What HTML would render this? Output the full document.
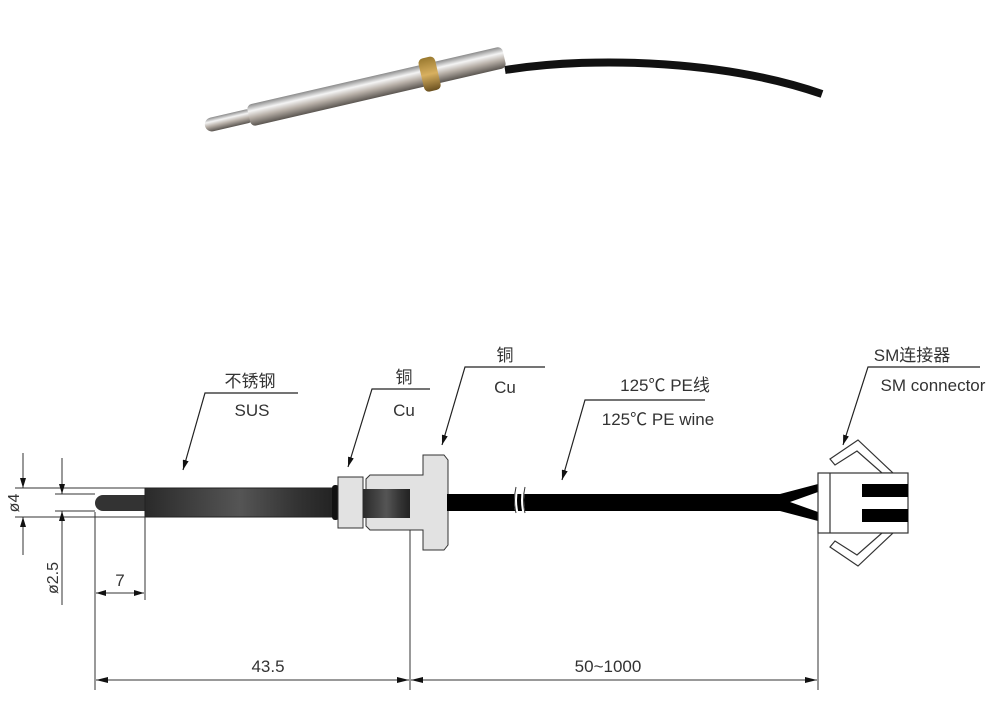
<!DOCTYPE html>
<html><head><meta charset="utf-8"><style>
body{margin:0;background:#fff}
svg{display:block}
text{font-family:"Liberation Sans","Noto Sans CJK SC",sans-serif;fill:#333}
</style></head><body>
<svg width="1000" height="727" viewBox="0 0 1000 727" xmlns="http://www.w3.org/2000/svg">
<defs>
<linearGradient id="met" x1="0" y1="0" x2="0" y2="1">
<stop offset="0" stop-color="#8a8a8a"/><stop offset="0.3" stop-color="#f4f4f4"/><stop offset="0.6" stop-color="#b8b0a8"/><stop offset="1" stop-color="#5a5550"/></linearGradient>
<linearGradient id="brass" x1="0" y1="0" x2="0" y2="1">
<stop offset="0" stop-color="#9a7a30"/><stop offset="0.5" stop-color="#d8b060"/><stop offset="1" stop-color="#6a5020"/></linearGradient>
<linearGradient id="tube" x1="0" y1="0" x2="1" y2="0">
<stop offset="0" stop-color="#2a2a2a"/><stop offset="0.5" stop-color="#555"/><stop offset="0.8" stop-color="#333"/><stop offset="1" stop-color="#222"/></linearGradient>
<marker id="ar" markerWidth="10" markerHeight="6" refX="10" refY="3" orient="auto" markerUnits="userSpaceOnUse"><path d="M0,0 L10,3 L0,6z" fill="#111"/></marker>
<marker id="ar2" markerWidth="12" markerHeight="6" refX="12" refY="3" orient="auto" markerUnits="userSpaceOnUse"><path d="M0,0 L12,3 L0,6z" fill="#111"/></marker>
</defs>

<!-- photo -->
<path d="M505,70 C600,55 730,62 822,94" stroke="#111" stroke-width="8" fill="none"/>
<g transform="translate(205,126) rotate(-13)">
<rect x="0" y="-7" width="50" height="14" rx="7" fill="url(#met)"/>
<rect x="45" y="-11" width="262" height="22" rx="5" fill="url(#met)"/>
<rect x="222" y="-17" width="17" height="34" rx="5" fill="url(#brass)"/>
</g>

<!-- drawing: probe -->
<g stroke="#333" stroke-width="1" fill="none">
<line x1="15" y1="488" x2="145" y2="488"/><line x1="15" y1="517" x2="145" y2="517"/>
<line x1="55" y1="494" x2="95" y2="494"/><line x1="55" y1="511" x2="95" y2="511"/>
<line x1="23" y1="453" x2="23" y2="488" marker-end="url(#ar)"/>
<line x1="23" y1="555" x2="23" y2="517" marker-end="url(#ar)"/>
<line x1="62" y1="458" x2="62" y2="494" marker-end="url(#ar)"/>
<line x1="62" y1="605" x2="62" y2="511" marker-end="url(#ar)"/>
<line x1="95" y1="512" x2="95" y2="690"/>
<line x1="145" y1="517" x2="145" y2="600"/>
<line x1="410" y1="530" x2="410" y2="690"/>
<line x1="818" y1="533" x2="818" y2="690"/>
<line x1="120" y1="593" x2="96" y2="593" marker-end="url(#ar)"/>
<line x1="120" y1="593" x2="144" y2="593" marker-end="url(#ar)"/>
<line x1="250" y1="680" x2="96" y2="680" marker-end="url(#ar2)"/>
<line x1="250" y1="680" x2="409" y2="680" marker-end="url(#ar2)"/>
<line x1="600" y1="680" x2="411" y2="680" marker-end="url(#ar2)"/>
<line x1="600" y1="680" x2="817" y2="680" marker-end="url(#ar2)"/>
</g>
<text x="0" y="0" font-size="16" transform="translate(19,503) rotate(-90)" text-anchor="middle">ø4</text>
<text x="0" y="0" font-size="16" transform="translate(58,578) rotate(-90)" text-anchor="middle">ø2.5</text>
<text x="120" y="586" font-size="17" text-anchor="middle">7</text>
<text x="268" y="672" font-size="17" text-anchor="middle">43.5</text>
<text x="608" y="672" font-size="17" text-anchor="middle">50~1000</text>

<path d="M103,495 H145 V511 H103 A8,8 0 0 1 103,495Z" fill="#333"/>
<rect x="145" y="488" width="190" height="29" fill="url(#tube)" stroke="#222"/>
<rect x="332" y="485" width="7" height="35" rx="3" fill="#111"/>
<rect x="338" y="477" width="25" height="51" fill="#e2e2e2" stroke="#333"/>
<path d="M370,475 H423 V455 H444 L448,460 V545 L444,550 H423 V530 H370 L366,526 V479Z" fill="#e2e2e2" stroke="#333"/>
<rect x="363" y="489" width="47" height="29" fill="url(#tube)"/>
<rect x="447" y="494" width="335" height="17" fill="#000"/>
<path d="M517,487 q-3,13 0,26 M524,487 q-3,13 0,26" stroke="#fff" stroke-width="3" fill="none"/>
<path d="M516,487 q-3,13 0,26 M525,487 q-3,13 0,26" stroke="#333" stroke-width="1" fill="none"/>
<path d="M780,494 L818,484 V492 L790,502 L818,512 V521 L780,511Z" fill="#000"/>
<g stroke="#333" stroke-width="1.2" fill="#fff">
<path d="M830,459 L858,440 L893,473 H882 L857,451 L835,465Z"/>
<path d="M830,547 L858,566 L893,533 H882 L857,555 L835,541Z"/>
<rect x="818" y="473" width="90" height="60"/>
<line x1="830" y1="473" x2="830" y2="533"/>
</g>
<rect x="862" y="484" width="46" height="13" fill="#000"/>
<rect x="862" y="509" width="46" height="13" fill="#000"/>

<!-- callouts -->
<g stroke="#222" stroke-width="1.2" fill="none">
<polyline points="298,393 205,393 183,470" marker-end="url(#ar)"/>
<polyline points="430,389 372,389 348,467" marker-end="url(#ar)"/>
<polyline points="545,367 465,367 442,445" marker-end="url(#ar)"/>
<polyline points="705,400 585,400 562,480" marker-end="url(#ar)"/>
<polyline points="980,367 868,367 843,445" marker-end="url(#ar)"/>
</g>
<g font-size="17">
<text x="250" y="387" text-anchor="middle">不锈钢</text>
<text x="252" y="416" text-anchor="middle">SUS</text>
<text x="404" y="383" text-anchor="middle">铜</text>
<text x="404" y="416" text-anchor="middle">Cu</text>
<text x="505" y="361" text-anchor="middle">铜</text>
<text x="505" y="393" text-anchor="middle">Cu</text>
<text x="665" y="391" text-anchor="middle">125℃ PE线</text>
<text x="658" y="425" text-anchor="middle">125℃ PE wine</text>
<text x="912" y="361" text-anchor="middle">SM连接器</text>
<text x="933" y="391" text-anchor="middle">SM connector</text>
</g>
</svg>
</body></html>
